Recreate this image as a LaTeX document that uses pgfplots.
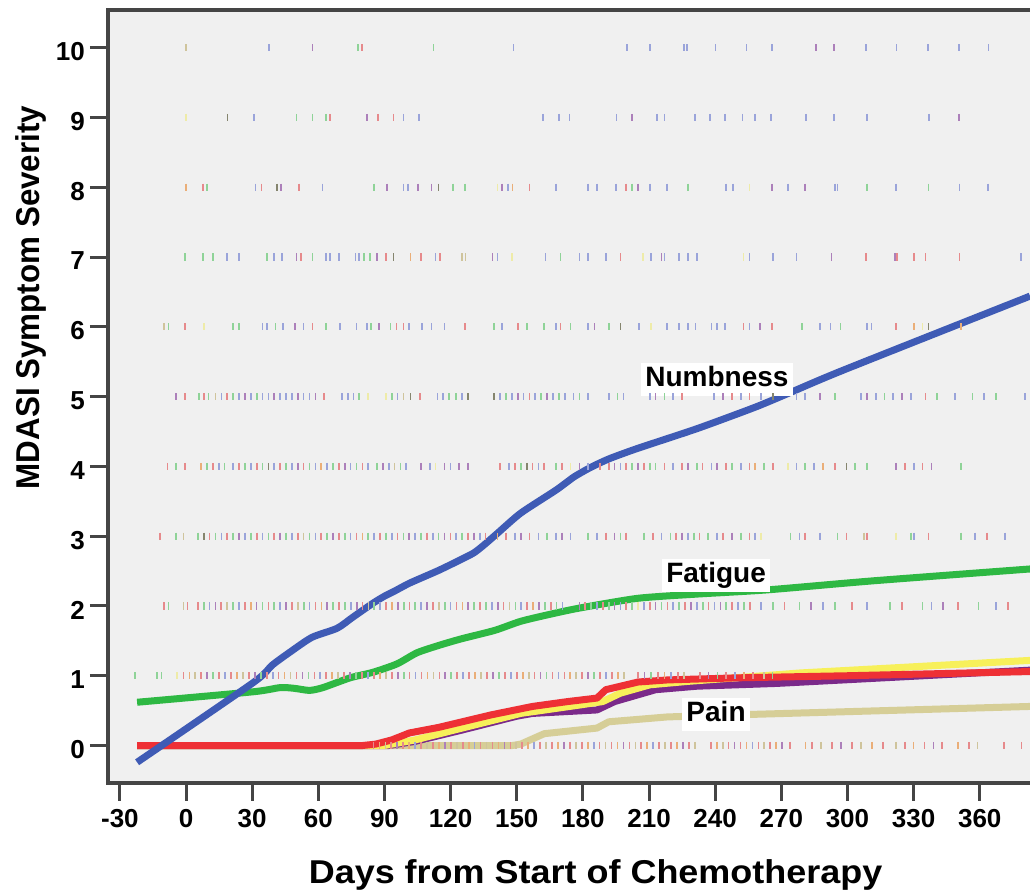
\documentclass[border=0pt]{standalone}
\usepackage{fontspec}
\setmainfont{Liberation Sans}
\newfontfamily\widefont[FakeStretch=1.09]{Liberation Sans}
\newfontfamily\narrowfont[FakeStretch=0.95]{Liberation Sans}
\usepackage{pgfplots}
\pgfplotsset{compat=1.18}

\definecolor{bgc}{HTML}{F0F0F0}
\definecolor{framec}{HTML}{454545}
\definecolor{numbc}{HTML}{3F5BB5}
\definecolor{fatc}{HTML}{2EB843}
\definecolor{redc}{HTML}{EE3035}
\definecolor{yelc}{HTML}{F7F05A}
\definecolor{purc}{HTML}{7B2A8A}
\definecolor{painc}{HTML}{D6CE97}
% pale colours of the individual ratings
\definecolor{rb}{HTML}{9AA4DA}
\definecolor{rp}{HTML}{AC80BA}
\definecolor{rg}{HTML}{8FD398}
\definecolor{rr}{HTML}{E68A8C}
\definecolor{ro}{HTML}{EAAE78}
\definecolor{rt}{HTML}{CFC49C}
\definecolor{ry}{HTML}{EEEBA8}
\definecolor{rk}{HTML}{85856E}

\newcommand\ticfont{\fontsize{26}{26}\selectfont\bfseries}

\pgfplotsset{
  rug/.style={scatter, only marks, point meta=explicit symbolic,
    mark=|, mark size=3.6pt, line width=1.7pt,
    scatter/classes={
      b={mark=|,draw=rb}, p={mark=|,draw=rp}, g={mark=|,draw=rg},
      r={mark=|,draw=rr}, o={mark=|,draw=ro}, t={mark=|,draw=rt},
      y={mark=|,draw=ry}, k={mark=|,draw=rk}}},
  curve/.style={no marks, line width=7pt, line join=round, line cap=butt},
}
\tikzset{
  labelbox/.style={fill=white, inner xsep=4pt, inner ysep=2.5pt,
    text height=21pt, text depth=7pt,
    font=\fontsize{28}{28}\selectfont\bfseries},
}

\begin{document}
\begin{tikzpicture}
\path[use as bounding box] (-108pt,-106pt) rectangle (922pt,783pt);
\begin{axis}[
  at={(0pt,0pt)}, anchor=south west,
  scale only axis, width=922pt, height=773pt,
  xmin=-35.4, xmax=382.8, ymin=-0.537, ymax=10.54,
  axis line style={draw=none},
  axis background/.style={fill=bgc},
  xtick={-30,0,30,60,90,120,150,180,210,240,270,300,330,360},
  xticklabels={-30,0,30,60,90,120,150,180,210,240,270,300,330,360},
  ytick={0,1,2,3,4,5,6,7,8,9,10},
  yticklabels={0,1,2,3,4,5,6,7,8,9,10},
  tick align=outside, tick pos=lower,
  major tick length=18pt,
  every tick/.style={framec, line width=3pt},
  ticklabel style={font=\ticfont, text=black},
  xticklabel style={inner sep=0pt, yshift=-8pt},
  yticklabel style={inner sep=0pt, xshift=-5pt, yshift=-4pt},
]

% Pain
\addplot[curve, painc] coordinates {(-22.2,0) (148,0) (151.8,0.02) (162.5,0.17) (186.4,0.25) (191.7,0.34) (218.4,0.41) (250,0.44) (382.8,0.56)};

% individual ratings at each severity level
\addplot[rug] coordinates {(0,10)[t] (37.7,10)[b] (57.3,10)[p] (78,10)[g] (79.9,10)[r] (112.2,10)[g] (148.5,10)[b] (199.9,10)[b] (210.4,10)[b] (226,10)[b] (227.3,10)[b] (240.2,10)[b] (254.2,10)[b] (265.8,10)[b] (285.7,10)[p] (294,10)[p] (308.5,10)[b] (322.3,10)[b] (336.5,10)[b] (350.5,10)[b] (364,10)[b]};
\addplot[rug] coordinates {(0,9)[y] (18.8,9)[k] (30.7,9)[b] (50.1,9)[g] (57.3,9)[g] (63.5,9)[g] (65.3,9)[r] (82.1,9)[p] (87.1,9)[r] (94.1,9)[r] (98.6,9)[b] (105.8,9)[b] (161.9,9)[b] (169.1,9)[b] (173.9,9)[b] (195.2,9)[b] (202.4,9)[p] (213.5,9)[b] (217,9)[b] (230.8,9)[b] (237.5,9)[b] (244.4,9)[b] (252.4,9)[b] (258.2,9)[b] (265.2,9)[b] (281.1,9)[b] (293.9,9)[b] (308.8,9)[b] (337,9)[b] (350.6,9)[p]};
\addplot[rug] coordinates {(0.1,8)[o] (7.6,8)[r] (9.4,8)[g] (31.5,8)[b] (34.2,8)[r] (41.4,8)[k] (43.2,8)[p] (51.2,8)[r] (61.9,8)[b] (85.3,8)[g] (91.1,8)[p] (98.6,8)[b] (100.7,8)[b] (105.2,8)[p] (111.3,8)[p] (114.5,8)[k] (121.2,8)[g] (126.5,8)[g] (141.2,8)[y] (143.3,8)[p] (145.9,8)[b] (148.1,8)[o] (155.8,8)[r] (167.8,8)[b] (182.4,8)[b] (186.4,8)[b] (194.9,8)[b] (199.7,8)[r] (202.4,8)[g] (205,8)[p] (210.3,8)[b] (218.3,8)[b] (227.6,8)[g] (244.9,8)[b] (248.1,8)[b] (255.6,8)[y] (265.7,8)[p] (272.9,8)[b] (280.9,8)[p] (294.2,8)[b] (295.5,8)[b] (308.8,8)[g] (322.1,8)[b] (336.7,8)[g] (350.8,8)[b] (363.9,8)[b]};
\addplot[rug] coordinates {(-0.4,7)[g] (7.6,7)[g] (12.1,7)[g] (18.7,7)[b] (24.1,7)[b] (36.8,7)[g] (40,7)[b] (43.5,7)[b] (50.1,7)[p] (52,7)[r] (57.3,7)[g] (63.5,7)[b] (65.3,7)[b] (69.3,7)[b] (76.8,7)[b] (78.6,7)[b] (80.8,7)[g] (83.4,7)[g] (86.6,7)[p] (90.6,7)[r] (94.1,7)[k] (101.8,7)[o] (106.6,7)[r] (113.2,7)[b] (115.1,7)[r] (125.2,7)[t] (126.8,7)[t] (139,7)[p] (141.2,7)[b] (147.8,7)[y] (163,7)[b] (169.9,7)[g] (178.4,7)[b] (182.4,7)[b] (190.4,7)[b] (197,7)[r] (207.2,7)[y] (210.9,7)[b] (215.7,7)[p] (217,7)[b] (223.7,7)[b] (227.6,7)[b] (231.6,7)[b] (252.9,7)[y] (255.6,7)[b] (266.2,7)[b] (276.9,7)[b] (292.8,7)[p] (308.3,7)[r] (321.6,7)[p] (322.6,7)[r] (330.1,7)[r] (335.4,7)[r] (350.8,7)[r] (378.8,7)[b]};
\addplot[rug] coordinates {(-10,6)[t] (-7.9,6)[g] (-0.4,6)[r] (8.1,6)[y] (21.4,6)[g] (24.1,6)[g] (34.7,6)[b] (36.8,6)[b] (40.6,6)[g] (44,6)[b] (49.3,6)[p] (53.3,6)[b] (57.3,6)[r] (63.5,6)[g] (69.8,6)[b] (77.3,6)[b] (82.1,6)[b] (83.9,6)[g] (87.4,6)[p] (92.7,6)[g] (95.4,6)[r] (98.6,6)[r] (101.2,6)[b] (107.1,6)[b] (111.3,6)[b] (117.2,6)[b] (126.5,6)[r] (139.8,6)[g] (143.3,6)[b] (150.5,6)[r] (154.5,6)[g] (162.4,6)[g] (167.8,6)[b] (169.9,6)[r] (174.4,6)[g] (182.4,6)[b] (185.3,6)[p] (191.7,6)[g] (197,6)[k] (205.5,6)[b] (210.9,6)[y] (218.3,6)[b] (223.7,6)[b] (227.6,6)[b] (231.1,6)[b] (238.3,6)[b] (240.9,6)[b] (244.4,6)[b] (252.9,6)[r] (255.6,6)[b] (260.4,6)[p] (265.7,6)[r] (279.5,6)[g] (287.5,6)[b] (292.3,6)[b] (296.8,6)[g] (308.8,6)[b] (310.9,6)[b] (322.1,6)[r] (330.1,6)[o] (334.1,6)[y] (336.7,6)[k] (351.4,6)[o]};
\addplot[rug] coordinates {(-4.7,5)[p] (-0.4,5)[r] (6,5)[g] (8.1,5)[r] (10.2,5)[g] (13.4,5)[t] (16.1,5)[b] (18.7,5)[r] (21.4,5)[g] (24.1,5)[b] (26.7,5)[p] (29.4,5)[b] (32.1,5)[g] (34.7,5)[b] (37.4,5)[b] (40,5)[p] (42.7,5)[b] (45.4,5)[b] (48,5)[b] (50.7,5)[p] (53.3,5)[b] (56,5)[b] (58.7,5)[p] (62.7,5)[r] (70.6,5)[b] (73.3,5)[b] (76,5)[b] (78.6,5)[g] (82.6,5)[y] (90.6,5)[y] (93.3,5)[g] (95.9,5)[b] (98.6,5)[t] (101.8,5)[k] (106,5)[r] (114,5)[b] (116.7,5)[b] (119.3,5)[g] (122.5,5)[g] (125.2,5)[b] (127.9,5)[k] (139.8,5)[k] (142.5,5)[b] (145.1,5)[g] (147.8,5)[b] (150.5,5)[p] (153.1,5)[b] (155.8,5)[r] (158.4,5)[b] (161.1,5)[g] (163.8,5)[p] (166.4,5)[b] (169.1,5)[g] (171.8,5)[b] (175.7,5)[b] (178.4,5)[g] (182.4,5)[b] (191.7,5)[b] (195.7,5)[g] (198.4,5)[b] (210.3,5)[b] (213,5)[p] (217,5)[g] (221,5)[b] (225,5)[r] (239.6,5)[b] (243.6,5)[p] (247.6,5)[r] (251.6,5)[b] (255.6,5)[r] (260.9,5)[b] (266.2,5)[k] (276.9,5)[b] (280.9,5)[b] (287.5,5)[p] (294.2,5)[g] (306.1,5)[b] (308.8,5)[p] (312.8,5)[b] (316.8,5)[g] (320.8,5)[b] (324.8,5)[p] (328.8,5)[b] (335.4,5)[r] (340.7,5)[g] (348.7,5)[b] (356.7,5)[g] (362,5)[b] (367.3,5)[g] (380.6,5)[b]};
\addplot[rug] coordinates {(-8.4,4)[r] (-4.7,4)[g] (-0.4,4)[r] (6.8,4)[o] (9.4,4)[g] (12.1,4)[r] (14.8,4)[b] (17.4,4)[g] (21.4,4)[b] (24.1,4)[r] (26.7,4)[g] (29.4,4)[b] (32.1,4)[r] (34.7,4)[g] (37.4,4)[k] (40,4)[b] (42.7,4)[r] (45.4,4)[g] (48,4)[b] (50.7,4)[p] (53.3,4)[r] (56,4)[g] (58.7,4)[b] (61.3,4)[o] (64,4)[b] (66.6,4)[g] (69.3,4)[r] (72,4)[p] (74.6,4)[b] (77.3,4)[g] (80,4)[r] (82.6,4)[b] (86.6,4)[g] (89.3,4)[p] (91.9,4)[b] (94.6,4)[t] (97.3,4)[g] (99.9,4)[b] (106.6,4)[p] (110.5,4)[b] (113.2,4)[y] (117.2,4)[p] (119.9,4)[b] (123.9,4)[p] (127.9,4)[p] (142.5,4)[r] (146.5,4)[b] (149.1,4)[r] (151.8,4)[g] (154.5,4)[k] (157.1,4)[r] (159.8,4)[b] (162.4,4)[r] (167.8,4)[g] (170.4,4)[r] (174.4,4)[y] (178.4,4)[p] (182.4,4)[b] (187.7,4)[r] (191.7,4)[r] (194.4,4)[p] (197,4)[b] (199.7,4)[r] (202.4,4)[g] (205,4)[p] (207.7,4)[r] (210.3,4)[g] (213,4)[g] (217,4)[r] (221,4)[b] (225,4)[r] (227.6,4)[p] (231.6,4)[g] (234.3,4)[r] (238.3,4)[b] (240.9,4)[p] (244.9,4)[r] (247.6,4)[g] (251.6,4)[b] (255.6,4)[r] (258.2,4)[o] (262.2,4)[g] (266.2,4)[r] (272.9,4)[y] (276.9,4)[b] (280.9,4)[g] (284.9,4)[b] (288.8,4)[o] (294.2,4)[r] (299.5,4)[k] (303.5,4)[g] (308.8,4)[g] (322.1,4)[p] (326.1,4)[r] (330.1,4)[b] (334.1,4)[r] (338.1,4)[p] (351.4,4)[g]};
\addplot[rug] coordinates {(-11.9,3)[r] (-4.7,3)[g] (-1.2,3)[t] (5.4,3)[g] (8.1,3)[k] (10.7,3)[r] (13.4,3)[g] (16.1,3)[b] (18.7,3)[r] (21.4,3)[g] (24.1,3)[p] (26.7,3)[b] (29.4,3)[g] (32.1,3)[r] (34.7,3)[b] (37.4,3)[g] (40,3)[r] (42.7,3)[p] (45.4,3)[g] (48,3)[b] (50.7,3)[r] (53.3,3)[t] (56,3)[g] (58.7,3)[b] (61.3,3)[r] (64,3)[g] (66.6,3)[p] (69.3,3)[r] (72,3)[g] (74.6,3)[b] (77.3,3)[r] (80,3)[o] (82.6,3)[g] (85.3,3)[b] (87.9,3)[r] (90.6,3)[g] (93.3,3)[b] (95.9,3)[r] (98.6,3)[g] (101.2,3)[p] (103.9,3)[b] (106.6,3)[g] (109.2,3)[r] (111.9,3)[b] (114.5,3)[g] (117.2,3)[p] (119.9,3)[r] (122.5,3)[b] (125.2,3)[g] (127.9,3)[r] (130.5,3)[p] (133.2,3)[b] (135.8,3)[r] (141.2,3)[o] (145.1,3)[r] (149.1,3)[b] (151.8,3)[p] (155.8,3)[r] (159.8,3)[b] (163.8,3)[g] (167.8,3)[b] (170.4,3)[p] (174.4,3)[b] (182.4,3)[g] (186.4,3)[b] (190.4,3)[r] (194.4,3)[p] (197,3)[g] (199.7,3)[r] (207.7,3)[g] (211.7,3)[r] (215.7,3)[b] (219.7,3)[g] (222.3,3)[r] (225,3)[p] (227.6,3)[b] (230.3,3)[g] (232.9,3)[r] (236.9,3)[g] (240.9,3)[b] (243.6,3)[r] (247.6,3)[p] (251.6,3)[g] (255.6,3)[r] (258.2,3)[b] (260.9,3)[y] (274.2,3)[g] (278.2,3)[b] (280.9,3)[r] (287.5,3)[b] (295.5,3)[g] (299.5,3)[r] (307.5,3)[t] (308.8,3)[r] (322.1,3)[y] (328.8,3)[g] (330.1,3)[b] (336.7,3)[r] (351.4,3)[g] (358,3)[b] (363.4,3)[r] (371.3,3)[b]};
\addplot[rug] coordinates {(-10,2)[r] (-7.9,2)[g] (-1.2,2)[t] (0.7,2)[r] (5.4,2)[r] (8,2)[g] (10.7,2)[b] (13.4,2)[p] (16,2)[r] (18.7,2)[t] (21.4,2)[g] (24,2)[b] (26.7,2)[r] (29.4,2)[o] (32,2)[p] (34.7,2)[g] (37.4,2)[r] (40,2)[g] (42.7,2)[b] (45.4,2)[p] (48,2)[r] (50.7,2)[t] (53.4,2)[g] (56,2)[b] (58.7,2)[r] (61.4,2)[o] (64,2)[p] (66.7,2)[g] (69.4,2)[r] (72,2)[g] (74.7,2)[b] (77.4,2)[p] (80,2)[r] (82.7,2)[t] (85.4,2)[g] (88,2)[b] (90.7,2)[r] (93.4,2)[o] (96,2)[p] (98.7,2)[g] (101.4,2)[r] (104,2)[g] (106.7,2)[b] (109.4,2)[p] (112,2)[r] (114.7,2)[t] (117.4,2)[g] (120,2)[b] (122.7,2)[r] (125.4,2)[o] (128,2)[p] (130.7,2)[g] (133.4,2)[r] (136,2)[g] (138.7,2)[b] (141.4,2)[p] (144,2)[r] (146.7,2)[t] (149.4,2)[g] (152,2)[b] (154.7,2)[r] (157.4,2)[o] (160,2)[p] (162.7,2)[g] (165.4,2)[r] (168,2)[g] (170.7,2)[b] (178.4,2)[p] (181,2)[r] (183.7,2)[g] (186.4,2)[b] (189,2)[r] (191.7,2)[g] (194.4,2)[p] (197,2)[b] (199.7,2)[r] (202.4,2)[g] (205,2)[y] (207.7,2)[b] (210.4,2)[r] (213,2)[p] (215.7,2)[g] (218.4,2)[r] (221,2)[b] (223.7,2)[g] (226.4,2)[r] (229,2)[p] (231.7,2)[b] (234.4,2)[g] (237,2)[r] (239.7,2)[b] (242.4,2)[p] (245,2)[g] (247.7,2)[r] (250.4,2)[b] (253,2)[g] (255.7,2)[r] (260.9,2)[b] (266.2,2)[g] (271.5,2)[r] (278.2,2)[g] (283.5,2)[p] (288.8,2)[b] (294.2,2)[g] (302.1,2)[r] (308.8,2)[b] (319.4,2)[g] (324.8,2)[r] (334.1,2)[g] (338.1,2)[b] (343.4,2)[p] (350,2)[r] (359.4,2)[g] (367.3,2)[b] (372.7,2)[r]};
\addplot[rug] coordinates {(-23.3,1)[g] (-13.2,1)[g] (-11.1,1)[g] (-4,1)[y] (-1.2,1)[r] (1.5,1)[o] (4.2,1)[t] (6.9,1)[r] (9.6,1)[p] (12.3,1)[g] (15,1)[r] (17.7,1)[b] (20.4,1)[r] (23.1,1)[o] (25.8,1)[t] (28.5,1)[r] (31.2,1)[p] (33.9,1)[g] (36.6,1)[r] (39.3,1)[b] (42,1)[r] (44.7,1)[o] (47.4,1)[t] (50.1,1)[r] (52.8,1)[p] (55.5,1)[g] (58.2,1)[r] (60.9,1)[b] (63.6,1)[r] (66.3,1)[o] (69,1)[t] (71.7,1)[r] (74.4,1)[p] (77.1,1)[g] (79.8,1)[r] (82.5,1)[b] (85.2,1)[r] (87.9,1)[o] (90.6,1)[t] (93.3,1)[r] (96,1)[p] (98.7,1)[g] (101.4,1)[r] (104.1,1)[b] (106.8,1)[r] (109.5,1)[o] (112.2,1)[t] (114.9,1)[r] (117.6,1)[p] (120.3,1)[g] (123,1)[r] (125.7,1)[b] (128.4,1)[r] (131.1,1)[o] (133.8,1)[t] (136.5,1)[r] (139.2,1)[p] (141.9,1)[g] (144.6,1)[r] (147.3,1)[b] (150,1)[r] (152.7,1)[o] (155.4,1)[t] (158.1,1)[r] (160.8,1)[p] (163.5,1)[g] (166.2,1)[r] (168.9,1)[b] (171.6,1)[r] (174.3,1)[o] (177,1)[t] (179.7,1)[r] (182.4,1)[p] (185.1,1)[g] (187.8,1)[r] (190.5,1)[b] (193.2,1)[r] (195.9,1)[o] (198.6,1)[t] (205,1)[r] (208,1)[p] (211,1)[g] (214,1)[r] (217,1)[o] (220,1)[b] (223,1)[r] (226,1)[t] (233,1)[r] (237,1)[p] (241,1)[g] (245,1)[r] (249,1)[b] (253,1)[o] (257,1)[r] (262,1)[t] (266,1)[g]};
\addplot[rug] coordinates {(85,0)[r] (87.7,0)[o] (90.4,0)[t] (93.1,0)[r] (95.8,0)[p] (98.5,0)[r] (101.2,0)[o] (103.9,0)[b] (106.6,0)[r] (109.3,0)[t] (112,0)[r] (114.7,0)[o] (117.4,0)[p] (120.1,0)[r] (122.8,0)[t] (125.5,0)[r] (128.2,0)[o] (130.9,0)[b] (133.6,0)[r] (136.3,0)[t] (139,0)[r] (141.7,0)[o] (144.4,0)[p] (147.1,0)[r] (149.8,0)[t] (152.5,0)[r] (155.2,0)[o] (157.9,0)[b] (160.6,0)[r] (163.3,0)[t] (166,0)[r] (168.7,0)[o] (171.4,0)[p] (174.1,0)[r] (176.8,0)[t] (179.5,0)[r] (182.2,0)[o] (184.9,0)[b] (187.6,0)[r] (190.3,0)[t] (193,0)[r] (195.7,0)[o] (198.4,0)[p] (201.1,0)[r] (203.8,0)[t] (206.5,0)[r] (209.2,0)[o] (211.9,0)[b] (214.6,0)[r] (217.3,0)[t] (220,0)[r] (222.7,0)[o] (225.4,0)[p] (228.1,0)[r] (230.8,0)[t] (238,0)[r] (240.7,0)[o] (243.4,0)[t] (246.1,0)[r] (248.8,0)[p] (251.5,0)[r] (254.2,0)[o] (256.9,0)[b] (259.6,0)[r] (262.3,0)[t] (265,0)[r] (267.7,0)[o] (270.4,0)[p] (274,0)[r] (281,0)[o] (284,0)[r] (288,0)[t] (293,0)[r] (297,0)[p] (302,0)[r] (306,0)[t] (311,0)[o] (316,0)[r] (322,0)[t] (326,0)[r] (330,0)[o] (335,0)[r] (339,0)[p] (343,0)[r] (350,0)[o] (355,0)[r] (359,0)[t] (371,0)[r] (379,0)[r]};

% symptom trajectories
\addplot[curve, purc] coordinates {(-22.2,0) (92,0) (104,0.06) (125,0.22) (150,0.42) (157.1,0.46) (186.4,0.51) (194.4,0.63) (213,0.80) (231.7,0.85) (268,0.89) (382.8,1.08)};
\addplot[curve, yelc] coordinates {(-22.2,0) (90,0) (103.9,0.08) (125.2,0.25) (151.8,0.46) (178.5,0.58) (189,0.63) (197,0.75) (210.4,0.87) (228,0.92) (278.5,1.04) (382.8,1.22)};
\addplot[curve, redc] coordinates {(-22.2,0) (80,0) (86,0.02) (93.3,0.08) (101.3,0.18) (114.6,0.26) (125.2,0.34) (138.5,0.44) (157.1,0.56) (173.1,0.63) (186.4,0.68) (190.4,0.80) (205,0.91) (218.4,0.94) (250,0.97) (300,1.0) (382.8,1.06)};
\addplot[curve, fatc, smooth, tension=0.4] coordinates {(-22.2,0.62) (30.4,0.77) (42.6,0.83) (49,0.82) (56,0.79) (62.1,0.83) (74.4,0.97) (84.8,1.05) (95.7,1.17) (104.8,1.33) (115.2,1.44) (125,1.53) (140,1.65) (151.8,1.78) (165,1.88) (178.5,1.97) (205,2.11) (231.7,2.17) (263.5,2.23) (311.6,2.36) (382.8,2.53)};
\addplot[curve, numbc, smooth, tension=0.4] coordinates {(-22.2,-0.24) (30.4,0.90) (39.0,1.15) (47.2,1.34) (57.1,1.55) (68.5,1.68) (75.7,1.84) (84.8,2.04) (90,2.14) (95,2.22) (101.6,2.33) (114.6,2.51) (125,2.67) (130.5,2.76) (135,2.87) (141.2,3.04) (151.8,3.33) (167.8,3.66) (176,3.85) (183.8,3.99) (192,4.11) (205.0,4.26) (231.7,4.54) (258.3,4.85) (274.2,5.06) (298.2,5.38) (382.8,6.44)};

\node[labelbox] at (axis cs:240.8,5.24) {Numbness};
\node[labelbox] at (axis cs:240.4,2.44) {Fatigue};
\node[labelbox] at (axis cs:240.4,0.44) {Pain};
\end{axis}

% frame on the left, top and bottom
\draw[framec, line width=3.3pt] (922pt,0pt) -- (0pt,0pt) -- (0pt,773pt) -- (922pt,773pt);

\node[anchor=base, inner sep=0pt, font=\widefont\bfseries\fontsize{33}{33}\selectfont]
  at (487.6pt,-100.6pt) {Days from Start of Chemotherapy};
\node[rotate=90, anchor=base, inner sep=0pt, font=\narrowfont\bfseries\fontsize{33}{33}\selectfont]
  at (-68.4pt,485.5pt) {MDASI Symptom Severity};
\end{tikzpicture}
\end{document}
